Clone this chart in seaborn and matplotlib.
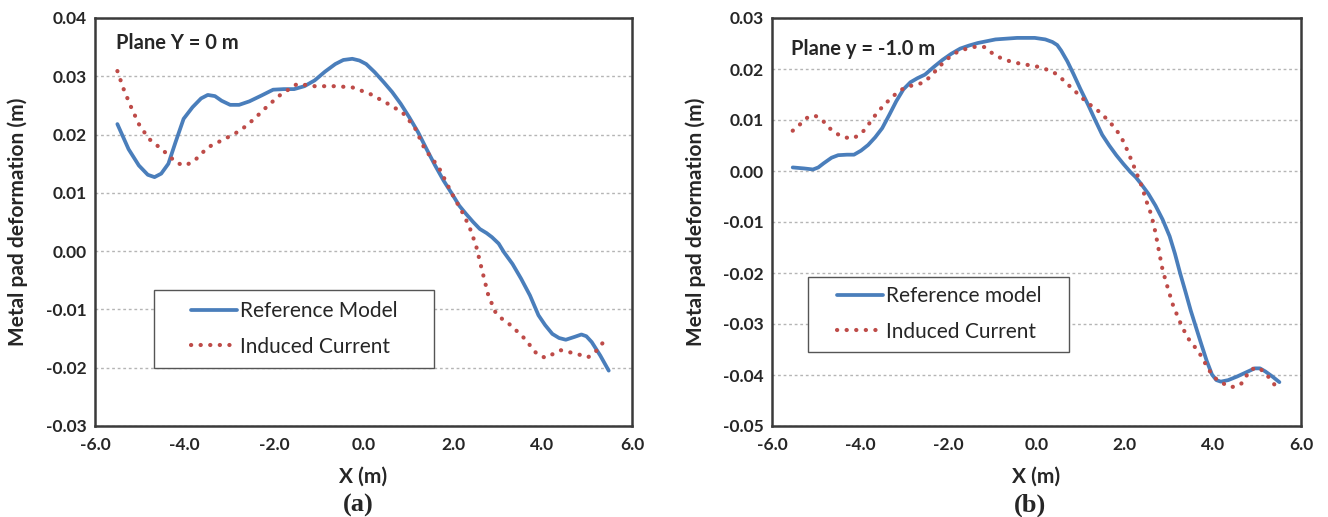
import numpy as np
import pandas as pd
import matplotlib
matplotlib.use("Agg")
import matplotlib.pyplot as plt
from matplotlib.patches import Rectangle
import seaborn as sns

# ---------------- data ----------------
# Panel (a): Plane Y = 0 m
a_ref_x = [-5.50, -5.25, -5.02, -4.82, -4.67, -4.52, -4.36, -4.20, -4.02, -3.82, -3.63, -3.48,
           -3.32, -3.17, -2.98, -2.78, -2.55, -2.28, -2.02, -1.78, -1.55, -1.32, -1.09, -0.86,
           -0.63, -0.45, -0.25, -0.09, 0.06, 0.25, 0.45, 0.64, 0.83, 1.02, 1.22, 1.41, 1.60,
           1.79, 1.98, 2.14, 2.29, 2.45, 2.60, 2.75, 2.87, 3.02, 3.14, 3.33, 3.52, 3.72,
           3.91, 4.06, 4.22, 4.37, 4.52, 4.72, 4.87, 4.98, 5.10, 5.29, 5.48]
a_ref_y = [0.0218, 0.0175, 0.0147, 0.0131, 0.0127, 0.0133, 0.0150, 0.0187, 0.0227, 0.0247,
           0.0262, 0.0268, 0.0266, 0.0258, 0.0251, 0.0251, 0.0257, 0.0267, 0.0277, 0.0278,
           0.0278, 0.0283, 0.0293, 0.0308, 0.0321, 0.0328, 0.0330, 0.0327, 0.0321, 0.0307,
           0.0290, 0.0273, 0.0253, 0.0230, 0.0204, 0.0175, 0.0147, 0.0121, 0.0098, 0.0078,
           0.0064, 0.0050, 0.0038, 0.0031, 0.0024, 0.0013, -0.0002, -0.0022, -0.0047, -0.0076,
           -0.0110, -0.0127, -0.0142, -0.0149, -0.0152, -0.0147, -0.0143, -0.0146, -0.0156,
           -0.0179, -0.0205]

a_ind_x = [-5.50, -5.36, -5.21, -5.02, -4.80, -4.48, -4.17, -3.98, -3.78, -3.48, -3.09, -2.75,
           -2.44, -2.13, -1.86, -1.48, -1.09, -0.63, -0.25, 0.14, 0.52, 0.87, 1.14, 1.37,
           1.68, 1.98, 2.25, 2.40, 2.52, 2.64, 2.79, 2.95, 3.12, 3.29, 3.60, 3.87, 4.06,
           4.41, 4.75, 5.02, 5.22, 5.45]
a_ind_y = [0.0309, 0.0278, 0.0250, 0.0218, 0.0193, 0.0173, 0.0151, 0.0147, 0.0155, 0.0178,
           0.0193, 0.0207, 0.0227, 0.0250, 0.0268, 0.0287, 0.0283, 0.0283, 0.0281, 0.0270,
           0.0254, 0.0238, 0.0213, 0.0175, 0.0144, 0.0098, 0.0061, 0.0035, 0.0008, -0.0030,
           -0.0076, -0.0105, -0.0118, -0.0127, -0.0150, -0.0176, -0.0183, -0.0170, -0.0176,
           -0.0182, -0.0170, -0.0147]

# Panel (b): Plane y = -1.0 m
b_ref_x = [-5.53, -5.27, -5.07, -4.95, -4.83, -4.65, -4.50, -4.30, -4.14, -3.98, -3.82, -3.66,
           -3.50, -3.34, -3.18, -3.02, -2.86, -2.70, -2.53, -2.33, -2.13, -1.93, -1.73, -1.53,
           -1.33, -0.93, -0.44, -0.04, 0.20, 0.36, 0.47, 0.56, 0.70, 0.84, 1.00, 1.17, 1.33,
           1.49, 1.65, 1.81, 1.97, 2.13, 2.25, 2.37, 2.54, 2.70, 2.86, 3.02, 3.14, 3.26,
           3.38, 3.50, 3.62, 3.74, 3.86, 3.98, 4.08, 4.18, 4.35, 4.55, 4.75, 4.95, 5.07,
           5.19, 5.35, 5.51]
b_ref_y = [0.0007, 0.0005, 0.0003, 0.0007, 0.0015, 0.0026, 0.0031, 0.0032, 0.0032, 0.0040,
           0.0051, 0.0066, 0.0084, 0.0110, 0.0137, 0.0160, 0.0174, 0.0182, 0.0189, 0.0204,
           0.0218, 0.0230, 0.0240, 0.0246, 0.0251, 0.0258, 0.0261, 0.0261, 0.0258, 0.0253,
           0.0247, 0.0236, 0.0215, 0.0190, 0.0160, 0.0130, 0.0100, 0.0071, 0.0050, 0.0031,
           0.0014, -0.0002, -0.0012, -0.0025, -0.0045, -0.0068, -0.0095, -0.0128, -0.0162,
           -0.0201, -0.0237, -0.0274, -0.0307, -0.0340, -0.0372, -0.0399, -0.0410, -0.0413,
           -0.0410, -0.0403, -0.0395, -0.0387, -0.0387, -0.0393, -0.0403, -0.0414]

b_ind_x = [-5.53, -5.37, -5.21, -5.03, -4.85, -4.71, -4.55, -4.37, -4.16, -3.98, -3.84, -3.72,
           -3.58, -3.46, -3.30, -3.14, -2.94, -2.76, -2.57, -2.41, -2.25, -2.09, -1.93, -1.75,
           -1.57, -1.37, -1.18, -0.99, -0.80, -0.60, -0.40, -0.20, 0.00, 0.20, 0.40, 0.56,
           0.72, 0.88, 1.05, 1.18, 1.33, 1.49, 1.65, 1.79, 1.91, 2.01, 2.09, 2.17, 2.25,
           2.33, 2.41, 2.47, 2.55, 2.61, 2.70, 2.78, 2.86, 2.98, 3.10, 3.26, 3.42, 3.60,
           3.74, 3.90, 4.05, 4.22, 4.42, 4.63, 4.75, 4.87, 5.03, 5.19, 5.33, 5.46]
b_ind_y = [0.0079, 0.0091, 0.0104, 0.0109, 0.0099, 0.0085, 0.0074, 0.0066, 0.0064, 0.0073,
           0.0087, 0.0103, 0.0117, 0.0130, 0.0142, 0.0156, 0.0165, 0.0169, 0.0173, 0.0185,
           0.0200, 0.0215, 0.0226, 0.0236, 0.0240, 0.0244, 0.0243, 0.0230, 0.0221, 0.0215,
           0.0211, 0.0208, 0.0205, 0.0200, 0.0193, 0.0182, 0.0169, 0.0156, 0.0142, 0.0132,
           0.0123, 0.0111, 0.0097, 0.0083, 0.0068, 0.0051, 0.0034, 0.0018, 0.0000, -0.0017,
           -0.0035, -0.0054, -0.0072, -0.0088, -0.0121, -0.0158, -0.0194, -0.0230, -0.0264,
           -0.0297, -0.0326, -0.0346, -0.0363, -0.0389, -0.0406, -0.0416, -0.0424, -0.0419,
           -0.0403, -0.0389, -0.0385, -0.0396, -0.0411, -0.0426]

x_ticks = [-6.0, -4.0, -2.0, 0.0, 2.0, 4.0, 6.0]
x_tick_labels = ["-6.0", "-4.0", "-2.0", "0.0", "2.0", "4.0", "6.0"]
a_y_ticks = [-0.03, -0.02, -0.01, 0.0, 0.01, 0.02, 0.03, 0.04]
a_y_tick_labels = ["-0.03", "-0.02", "-0.01", "0.00", "0.01", "0.02", "0.03", "0.04"]
b_y_ticks = [-0.05, -0.04, -0.03, -0.02, -0.01, 0.0, 0.01, 0.02, 0.03]
b_y_tick_labels = ["-0.05", "-0.04", "-0.03", "-0.02", "-0.01", "0.00", "0.01", "0.02", "0.03"]

a_labels = ["Reference Model", "Induced Current"]
b_labels = ["Reference model", "Induced Current"]
a_title = "Plane Y = 0 m"
b_title = "Plane y = -1.0 m"
x_label = "X (m)"
y_label = "Metal pad deformation (m)"

# ---------------- style ----------------
sns.set_theme(style="white")
plt.rcParams["font.family"] = ["Lato", "DejaVu Sans"]

BLUE = "#4A7EBB"
RED = "#BE4B48"
SPINE = "#3a3a3a"

fig = plt.figure(figsize=(13.28, 5.17), dpi=100)
ax_a = fig.add_axes([95 / 1328, 1 - 426 / 517, 537 / 1328, 408 / 517])
ax_b = fig.add_axes([772 / 1328, 1 - 426 / 517, 529 / 1328, 408 / 517])


def draw(ax, rx, ry, ix, iy, yticks, ylabels, labels, title, tpos, legbox, legcenter, sub, subx):
    ref = pd.DataFrame({"x": rx, "y": ry})
    ind = pd.DataFrame({"x": ix, "y": iy})
    sns.lineplot(data=ref, x="x", y="y", ax=ax, sort=False, color=BLUE, lw=2.7,
                 label=labels[0], solid_capstyle="round", solid_joinstyle="round")
    sns.lineplot(data=ind, x="x", y="y", ax=ax, sort=False, color=RED, lw=3.0,
                 linestyle=(0, (0.05, 2.25)), dash_capstyle="round", label=labels[1])
    ax.set_xlim(-6, 6)
    ax.set_ylim(yticks[0], yticks[-1])
    ax.set_xticks(x_ticks)
    ax.set_xticklabels(x_tick_labels)
    ax.set_yticks(yticks)
    ax.set_yticklabels(ylabels)
    for lab in ax.get_xticklabels() + ax.get_yticklabels():
        lab.set_fontweight("bold")
        lab.set_fontsize(12.5)
    ax.tick_params(axis="x", direction="in", length=5, width=1, color="#888888", pad=8)
    ax.tick_params(axis="y", length=0, pad=6)
    ax.grid(axis="y", color="#b5b5b5", lw=1.0, linestyle=(0, (2, 2)))
    ax.grid(axis="x", visible=False)
    ax.set_axisbelow(True)
    for s in ax.spines.values():
        s.set_color(SPINE)
        s.set_linewidth(1.8)
        s.set_visible(True)
    ax.set_xlabel(x_label, fontsize=15, fontweight="bold")
    ax.set_ylabel(y_label, fontsize=15, fontweight="bold")
    ax.xaxis.set_label_coords(0.5, -0.1)
    ax.yaxis.set_label_coords(-0.125, 0.5)
    ax.text(tpos[0], tpos[1], title, transform=ax.transAxes, fontsize=14.5,
            fontweight="bold", ha="left", va="center")
    # legend frame
    x0, y0, x1, y1 = legbox
    ax.add_patch(Rectangle((x0, y0), x1 - x0, y1 - y0, transform=ax.transAxes,
                           facecolor="white", edgecolor="#555555", lw=1.0, zorder=4))
    leg = ax.legend(loc="center", bbox_to_anchor=legcenter, frameon=False,
                    fontsize=15, handlelength=2.2, handletextpad=0.15,
                    labelspacing=0.75)
    leg.set_zorder(5)
    fig.text(subx, 0.022, sub, fontsize=19, fontweight="bold",
             family=["Liberation Serif", "DejaVu Serif"], ha="center", va="center")


draw(ax_a, a_ref_x, a_ref_y, a_ind_x, a_ind_y, a_y_ticks, a_y_tick_labels, a_labels,
     a_title, (0.039, 0.939), (0.110, 0.142, 0.631, 0.333), (0.371, 0.238), "(a)", 358 / 1328)
draw(ax_b, b_ref_x, b_ref_y, b_ind_x, b_ind_y, b_y_ticks, b_y_tick_labels, b_labels,
     b_title, (0.036, 0.924), (0.068, 0.181, 0.561, 0.365), (0.316, 0.275), "(b)", 1030 / 1328)

fig.savefig("out.png", dpi=100, facecolor="white")
